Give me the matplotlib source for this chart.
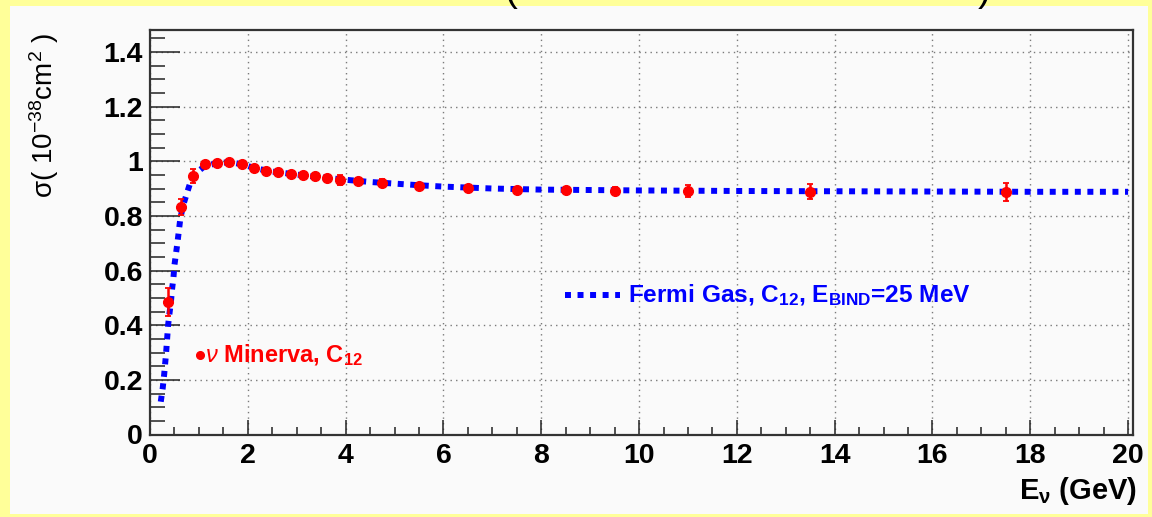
import matplotlib
matplotlib.use("Agg")
import matplotlib.pyplot as plt
from matplotlib.patches import Rectangle
from matplotlib.ticker import MultipleLocator

plt.rcParams['font.family'] = ['Liberation Sans', 'DejaVu Sans']
plt.rcParams['mathtext.fontset'] = 'custom'
plt.rcParams['mathtext.rm'] = 'Liberation Sans'
plt.rcParams['mathtext.it'] = 'Liberation Sans:italic'
plt.rcParams['mathtext.bf'] = 'Liberation Sans:bold'
plt.rcParams['mathtext.sf'] = 'Liberation Sans'

# Fermi gas prediction, C12, E_bind = 25 MeV
fg_energy = [0.22, 0.26, 0.29, 0.31, 0.33, 0.35, 0.37, 0.40, 0.43, 0.45, 0.48,
             0.50, 0.53, 0.56, 0.59, 0.62, 0.68, 0.75, 0.83, 0.95, 1.12, 1.40,
             1.65, 1.90, 2.15, 2.50, 3.00, 3.50, 4.00, 4.50, 5.00, 5.50, 6.00,
             7.00, 8.00, 10.0, 12.0, 14.0, 16.0, 18.0, 20.0]
fg_sigma = [0.12, 0.17, 0.22, 0.26, 0.30, 0.35, 0.40, 0.445, 0.49, 0.53, 0.575,
            0.62, 0.66, 0.70, 0.745, 0.79, 0.84, 0.88, 0.925, 0.958, 0.982, 0.994,
            0.996, 0.988, 0.974, 0.962, 0.951, 0.941, 0.932, 0.924, 0.918, 0.912, 0.907,
            0.900, 0.896, 0.893, 0.891, 0.890, 0.889, 0.888, 0.888]

# Minerva C12 points
mn_energy = [0.375, 0.625, 0.875, 1.125, 1.375, 1.625, 1.875, 2.125, 2.375,
             2.625, 2.875, 3.125, 3.375, 3.625, 3.875, 4.25, 4.75, 5.5, 6.5,
             7.5, 8.5, 9.5, 11.0, 13.5, 17.5]
mn_sigma = [0.485, 0.832, 0.945, 0.988, 0.993, 0.996, 0.990, 0.976, 0.965,
            0.960, 0.954, 0.949, 0.944, 0.938, 0.932, 0.927, 0.920, 0.911, 0.902,
            0.896, 0.894, 0.892, 0.890, 0.889, 0.888]
mn_err = [0.05, 0.03, 0.025, 0.012, 0.01, 0.01, 0.01, 0.01, 0.01, 0.01, 0.01,
          0.01, 0.01, 0.012, 0.018, 0.012, 0.015, 0.01, 0.008, 0.008, 0.01,
          0.012, 0.022, 0.028, 0.033]

W, H = 1152, 517
YELLOW = '#ffff99'
PANEL = '#fafafa'
BLUE = '#0000ff'
RED = '#ff0000'

fig = plt.figure(figsize=(W / 100, H / 100), dpi=100)
fig.patch.set_facecolor(YELLOW)
fig.patches.append(Rectangle((10 / W, 3 / H), 1138 / W, 508 / H,
                             transform=fig.transFigure, facecolor=PANEL,
                             edgecolor='none', zorder=-10))

ax = fig.add_axes([150 / W, 1 - 434.5 / H, 983 / W, 404.5 / H])
ax.set_facecolor(PANEL)

ax.plot(fg_energy, fg_sigma, color=BLUE, lw=4.3,
        linestyle=(0, (1.0, 1.1)), dash_capstyle='butt', zorder=3)
ax.errorbar(mn_energy, mn_sigma, yerr=mn_err, fmt='o', color=RED, ms=7,
            elinewidth=1.8, capsize=2, capthick=1.3, mec=RED, zorder=4)

ax.set_xlim(0, 20.1)
ax.set_ylim(0, 1.48)
ax.xaxis.set_major_locator(MultipleLocator(2))
ax.xaxis.set_minor_locator(MultipleLocator(0.5))
ax.yaxis.set_major_locator(MultipleLocator(0.2))
ax.yaxis.set_minor_locator(MultipleLocator(0.05))
ax.set_yticks([0, 0.2, 0.4, 0.6, 0.8, 1.0, 1.2, 1.4])
ax.set_yticklabels(['0', '0.2', '0.4', '0.6', '0.8', '1', '1.2', '1.4'])

ax.tick_params(which='both', direction='in', top=False, right=False,
               width=1.1, color='#222222')
ax.tick_params(axis='x', which='major', length=10.8, pad=6)
ax.tick_params(axis='x', which='minor', length=5.8)
ax.tick_params(axis='y', which='major', length=21.6, pad=5)
ax.tick_params(axis='y', which='minor', length=10.8)
for lab in ax.get_xticklabels() + ax.get_yticklabels():
    lab.set_fontsize(20.5)
    lab.set_fontweight('bold')

ax.grid(which='major', color='#7a7a7a', linestyle=(0, (1, 3)), lw=1.0)
ax.set_axisbelow(True)
for sp in ax.spines.values():
    sp.set_linewidth(1.6)
    sp.set_color('#333333')

# legend entries
ax.plot([0.051], [0.197], 'o', color=RED, ms=5.5, transform=ax.transAxes,
        clip_on=False, zorder=5)
ax.text(0.056, 0.197, r'$\nu$ Minerva, C$_{\mathbf{12}}$', color=RED,
        fontsize=17, fontweight='bold', ha='left', va='center',
        transform=ax.transAxes)
ax.plot([0.422, 0.478], [0.345, 0.345], color=BLUE, lw=4.3,
        linestyle=(0, (1.0, 1.1)), dash_capstyle='butt',
        transform=ax.transAxes)
ax.text(0.486, 0.345, r'Fermi Gas, C$_{\mathbf{12}}$, E$_{\mathbf{BIND}}$=25 MeV',
        color=BLUE, fontsize=17.6, fontweight='bold', ha='left', va='center',
        transform=ax.transAxes)

# axis titles
fig.text(44 / W, 1 - 33 / H, r'σ( 10$^{-38}$cm$^{2}$ )', rotation=90,
         fontsize=20, ha='center', va='top')
fig.text(1137 / W, 1 - 491 / H, r'E$_{\mathbf{\nu}}$ (GeV)', fontsize=21,
         fontweight='bold', ha='right', va='center')

# tails of the title brackets above the frame
fig.text(511 / W, 1 - 9 / H, '(', fontsize=28, ha='center', va='bottom')
fig.text(984 / W, 1 - 9 / H, ')', fontsize=28, ha='center', va='bottom')

fig.savefig('out.png', dpi=100, facecolor=YELLOW)
